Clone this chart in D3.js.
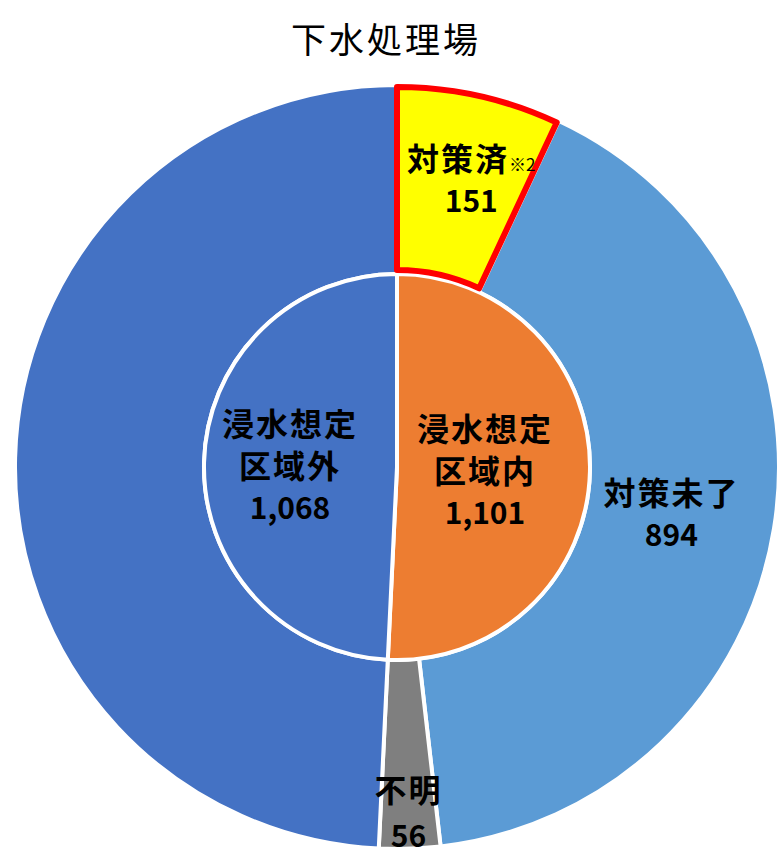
<!DOCTYPE html>
<html>
<head>
<meta charset="utf-8">
<script src="https://d3js.org/d3.v7.min.js"></script>
<style>
  body { margin: 0; background: #fff; }
  text { font-family: "Noto Sans CJK JP", "Noto Sans", sans-serif; }
</style>
</head>
<body>
<div id="chart"></div>
<script>
// inner ring: inside / outside the assumed flood area
var innerNames = ["浸水想定区域内", "浸水想定区域外"];
var innerValues = [1101, 1068];
var innerLines = [["浸水想定", "区域内"], ["浸水想定", "区域外"]];

// outer ring: breakdown of the flood area part, then the outside part again
var outerNames = ["対策済", "対策未了", "不明", "浸水想定区域外"];
var outerValues = [151, 894, 56, 1068];
var outerLines = [["対策済"], ["対策未了"], ["不明"], []];

var title = "下水処理場";

var width = 780, height = 863;
var cx = 397, cy = 467;
var rOuter = 382, rInner = 193;

var innerColor = d3.scaleOrdinal().domain(innerNames).range(["#ED7D31", "#4472C4"]);
var outerColor = d3.scaleOrdinal().domain(outerNames).range(["#FFFF00", "#5B9BD5", "#7F7F7F", "#4472C4"]);

var svg = d3.select("#chart").append("svg")
    .attr("width", width)
    .attr("height", height);

svg.append("text")
    .attr("x", 386)
    .attr("y", 37)
    .attr("text-anchor", "middle")
    .attr("dominant-baseline", "central")
    .attr("font-size", 35)
    .attr("letter-spacing", 3)
    .text(title);

var g = svg.append("g").attr("transform", "translate(" + cx + "," + cy + ")");

var pie = d3.pie().sort(null).value(function(d) { return d.value; });

var innerData = pie(innerNames.map(function(n, i) { return { name: n, value: innerValues[i], lines: innerLines[i] }; }));
var outerData = pie(outerNames.map(function(n, i) { return { name: n, value: outerValues[i], lines: outerLines[i] }; }));

var arcOuter = d3.arc().innerRadius(rInner).outerRadius(rOuter);
var arcInner = d3.arc().innerRadius(0).outerRadius(rInner);

// outer ring (yellow one drawn last with its red border)
g.selectAll("path.outer")
    .data(outerData.filter(function(d) { return d.data.name != "対策済"; }))
    .enter().append("path")
    .attr("class", "outer")
    .attr("d", arcOuter)
    .attr("fill", function(d) { return outerColor(d.data.name); })
    .attr("stroke", "#fff")
    .attr("stroke-width", 4);

g.selectAll("path.inner")
    .data(innerData)
    .enter().append("path")
    .attr("class", "inner")
    .attr("d", arcInner)
    .attr("fill", function(d) { return innerColor(d.data.name); })
    .attr("stroke", "#fff")
    .attr("stroke-width", 4);

var arcDone = d3.arc().innerRadius(rInner + 1).outerRadius(rOuter - 5);
g.selectAll("path.done")
    .data(outerData.filter(function(d) { return d.data.name == "対策済"; }))
    .enter().append("path")
    .attr("class", "done")
    .attr("d", arcDone)
    .attr("transform", "translate(0,-3)")
    .attr("fill", outerColor("対策済"))
    .attr("stroke", "#FF0000")
    .attr("stroke-width", 6)
    .attr("stroke-linejoin", "round");

var fmt = d3.format(",");

// label radius for each slice
var innerLabelR = [88, 107];
var outerLabelR = [296, 278, 344, 0];

function drawLabel(d, r, dx, lh) {
    var a = (d.startAngle + d.endAngle) / 2;
    var x = Math.sin(a) * r + (dx || 0);
    var y = -Math.cos(a) * r;
    var lines = d.data.lines.slice();
    var n = lines.length + 1;
    lh = lh || 42;
    var t = g.append("g").attr("transform", "translate(" + x + "," + y + ")");
    lines.forEach(function(s, i) {
        var tx = t.append("text")
            .attr("x", 0)
            .attr("y", (i - (n - 1) / 2) * lh)
            .attr("text-anchor", "middle")
            .attr("dominant-baseline", "central")
            .attr("font-size", 32)
            .attr("font-weight", "bold")
            .attr("letter-spacing", 2)
            .text(s);
        if (d.data.name == "対策済") {
            tx.append("tspan")
                .attr("font-size", 17)
                .attr("font-weight", "normal")
                .attr("letter-spacing", 0)
                .attr("dy", 6)
                .text("※2");
        }
    });
    t.append("text")
        .attr("x", 0)
        .attr("y", ((n - 1) - (n - 1) / 2) * lh)
        .attr("text-anchor", "middle")
        .attr("dominant-baseline", "central")
        .attr("font-size", 30)
        .attr("font-weight", "bold")
        .text(fmt(d.data.value));
}

innerData.forEach(function(d, i) { drawLabel(d, innerLabelR[i]); });
outerData.forEach(function(d, i) {
    if (!d.data.lines.length) return;
    var dx = d.data.name == "対策済" ? 10 : 0;
    var lh = d.data.name == "不明" ? 46 : 42;
    drawLabel(d, outerLabelR[i], dx, lh);
});
</script>
</body>
</html>
